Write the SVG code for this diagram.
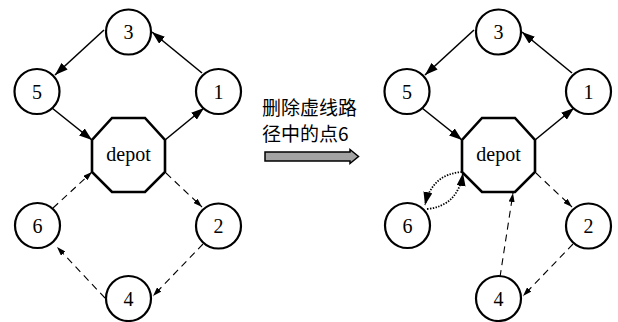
<svg xmlns="http://www.w3.org/2000/svg" width="618" height="322" viewBox="0 0 618 322">
  <defs>
    <style>
      .node circle { fill: #fff; stroke: #000; stroke-width: 2.2; }
      .node polygon { fill: #fff; stroke: #000; stroke-width: 2.6; }
      .label { font-family: "Liberation Serif", "Times New Roman", serif; font-size: 20px; text-anchor: middle; fill: #000; }
      .solid { fill: none; stroke: #000; stroke-width: 1.6; marker-end: url(#headBig); }
      .dash { fill: none; stroke: #000; stroke-width: 1.1; stroke-dasharray: 7 5; marker-end: url(#headSmall); }
      .dot { fill: none; stroke: #000; stroke-width: 1.8; stroke-dasharray: 1.4 1.4; marker-end: url(#headBig); }
      .caption { font-family: "Noto Sans CJK SC", "Liberation Sans", sans-serif; font-size: 19px; fill: #000; }
    </style>
    <marker id="headBig" markerUnits="userSpaceOnUse" markerWidth="13" markerHeight="9" refX="13" refY="4.5" orient="auto">
      <path d="M0,0 L13,4.5 L0,9 Z" fill="#000"/>
    </marker>
    <marker id="headSmall" markerUnits="userSpaceOnUse" markerWidth="9" markerHeight="6" refX="9" refY="3" orient="auto">
      <path d="M0,0 L9,3 L0,6 Z" fill="#000"/>
    </marker>
  </defs>

  <rect width="618" height="322" fill="#fff"/>

  <!-- connectors: route before removal (left) -->
  <g id="edges-before">
    <path class="solid" d="M104,30 L55,75"/>
    <path class="solid" d="M202,73 L152,32"/>
    <path class="solid" d="M52,108 L92,140"/>
    <path class="solid" d="M165,140 L204,108"/>
    <path class="dash" d="M166,173 L202,207"/>
    <path class="dash" d="M203,244 L153,296"/>
    <path class="dash" d="M105,298 L57,247"/>
    <path class="dash" d="M53,208 L92,172"/>
  </g>

  <!-- connectors: route after removal (right) -->
  <g id="edges-after">
    <path class="solid" d="M474,30 L425,75"/>
    <path class="solid" d="M572,73 L522,32"/>
    <path class="solid" d="M422,108 L462,140"/>
    <path class="solid" d="M535,140 L574,108"/>
    <path class="dash" d="M536,173 L572,207"/>
    <path class="dash" d="M573,244 L523,296"/>
    <path class="dash" d="M500,277 L513,193"/>
    <path class="dot" d="M462,172 Q432,174 425,205"/>
    <path class="dot" d="M427,209 Q458,206 463,173"/>
  </g>

  <!-- left graph nodes -->
  <g id="L3" class="node"><circle cx="128.5" cy="32" r="22.5"/><text class="label" x="128.5" y="39">3</text></g>
  <g id="L5" class="node"><circle cx="37" cy="91.5" r="22.5"/><text class="label" x="37" y="98.5">5</text></g>
  <g id="L1" class="node"><circle cx="218.5" cy="91.5" r="22.5"/><text class="label" x="218.5" y="98.5">1</text></g>
  <g id="Ldepot" class="node"><polygon points="112,118 145,118 165,140 165,172 145,192 112,192 92,172 92,140"/><text class="label" x="128.5" y="161">depot</text></g>
  <g id="L6" class="node"><circle cx="37.5" cy="225.5" r="22.5"/><text class="label" x="37.5" y="232.5">6</text></g>
  <g id="L2" class="node"><circle cx="218.5" cy="226" r="22.5"/><text class="label" x="218.5" y="233">2</text></g>
  <g id="L4" class="node"><circle cx="128.5" cy="298.5" r="22.5"/><text class="label" x="128.5" y="305.5">4</text></g>

  <!-- right graph nodes -->
  <g id="R3" class="node"><circle cx="498.5" cy="32" r="22.5"/><text class="label" x="498.5" y="39">3</text></g>
  <g id="R5" class="node"><circle cx="407" cy="91.5" r="22.5"/><text class="label" x="407" y="98.5">5</text></g>
  <g id="R1" class="node"><circle cx="588.5" cy="91.5" r="22.5"/><text class="label" x="588.5" y="98.5">1</text></g>
  <g id="Rdepot" class="node"><polygon points="482,118 515,118 535,140 535,172 515,192 482,192 462,172 462,140"/><text class="label" x="498.5" y="161">depot</text></g>
  <g id="R6" class="node"><circle cx="407.5" cy="225.5" r="22.5"/><text class="label" x="407.5" y="232.5">6</text></g>
  <g id="R2" class="node"><circle cx="588.5" cy="226" r="22.5"/><text class="label" x="588.5" y="233">2</text></g>
  <g id="R4" class="node"><circle cx="498.5" cy="298.5" r="22.5"/><text class="label" x="498.5" y="305.5">4</text></g>

  <!-- caption and transition arrow -->
  <g id="caption">
    <text class="caption" x="262" y="115">删除虚线路</text>
    <text class="caption" x="262" y="141">径中的点6</text>
    <path d="M265,152 L350,152 L350,149.5 L358.5,156.5 L350,163.5 L350,161 L265,161 Z" fill="#a3a3a3" stroke="#000" stroke-width="1.5" stroke-linejoin="miter"/>
  </g>
</svg>
